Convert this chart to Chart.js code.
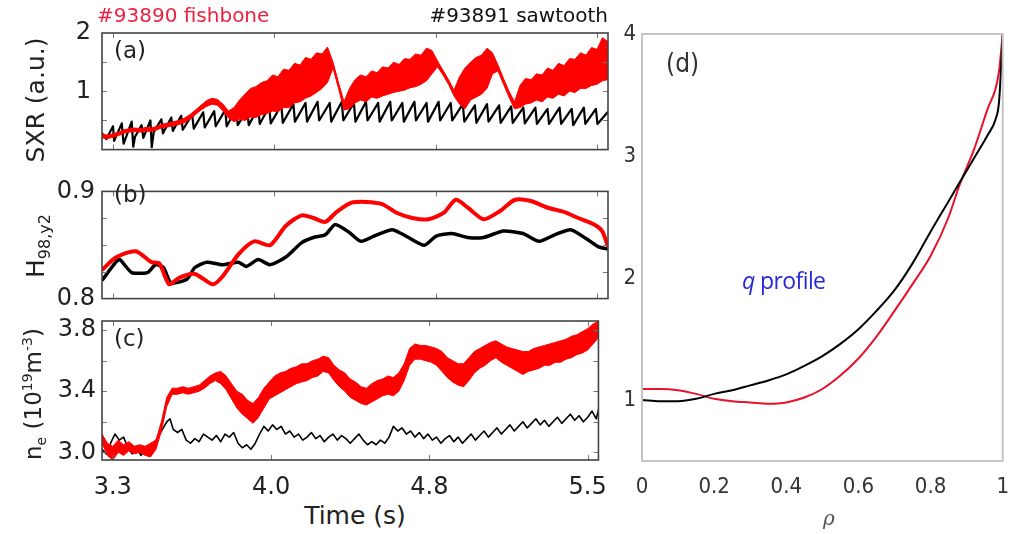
<!DOCTYPE html>
<html><head><meta charset="utf-8">
<script src="https://cdn.jsdelivr.net/npm/chart.js@4/dist/chart.umd.min.js"></script>
<style>
html,body{margin:0;padding:0;background:#fff;}
#wrap{position:relative;width:1022px;height:534px;overflow:hidden;background:#fff;font-family:'DejaVu Sans',sans-serif;color:#222;}
canvas{position:absolute;}
.t{position:absolute;white-space:nowrap;line-height:1;}
.rot{position:absolute;white-space:nowrap;line-height:1;transform:translate(-50%,-50%) rotate(-90deg);}
</style></head><body>
<div id="wrap">
<canvas id="ca" width="620" height="175" style="left:0;top:0"></canvas>
<canvas id="cb" width="620" height="150" style="left:0;top:170px"></canvas>
<canvas id="cc" width="620" height="200" style="left:0;top:300px"></canvas>
<canvas id="cd" width="422" height="534" style="left:600px;top:0"></canvas>

<div class="t" style="left:97px;top:5px;font-size:20px;color:#f02040;">#93890 fishbone</div>
<div class="t" style="right:414px;top:5px;font-size:20px;color:#111;">#93891 sawtooth</div>
<div class="t" style="left:114px;top:39px;font-size:23px;">(a)</div>
<div class="t" style="left:114px;top:183px;font-size:23px;">(b)</div>
<div class="t" style="left:114px;top:327px;font-size:23px;">(c)</div>
<div class="t" style="left:666px;top:50px;font-size:26px;font-family:'DejaVu Sans Condensed','DejaVu Sans',sans-serif;color:#333;">(d)</div>
<div class="rot" style="left:35px;top:100px;font-size:25px;">SXR (a.u.)</div>
<div class="rot" style="left:38px;top:246px;font-size:25px;">H<sub style="font-size:16px;">98,y2</sub></div>
<div class="rot" style="left:34px;top:394px;font-size:23px;">n<sub style="font-size:14px;">e</sub> (10<sup style="font-size:14px;">19</sup>m<sup style="font-size:14px;">-3</sup>)</div>
<div class="t" style="left:355px;top:503px;font-size:25px;transform:translateX(-50%);">Time (s)</div>
<div class="t" style="left:742px;top:269px;font-size:23px;letter-spacing:-0.6px;font-family:'Open Sans',sans-serif;color:#2828d8;"><i>q</i> profile</div>
<div class="t" style="left:829px;top:508px;font-size:20px;font-style:italic;color:#555;font-family:'DejaVu Serif',serif;transform:translateX(-50%);">&rho;</div>
</div>
<script>
// ---------- data ----------
const timeTickValues = [3.3, 4.0333, 4.7667, 5.5];
const timeTickLabels = ['3.3', '4.0', '4.8', '5.5'];

// common time grid for the fishbone (#93890) noisy signals
const gridT = [3.250,3.275,3.300,3.325,3.350,3.375,3.400,3.425,3.450,3.475,
3.500,3.525,3.550,3.575,3.600,3.625,3.650,3.675,3.700,3.725,
3.750,3.775,3.800,3.825,3.850,3.875,3.900,3.925,3.950,3.975,
4.000,4.025,4.050,4.075,4.100,4.125,4.150,4.175,4.200,4.225,
4.250,4.275,4.300,4.325,4.350,4.375,4.400,4.425,4.450,4.475,
4.500,4.525,4.550,4.575,4.600,4.625,4.650,4.675,4.700,4.725,
4.750,4.775,4.800,4.825,4.850,4.875,4.900,4.925,4.950,4.975,
5.000,5.025,5.050,5.075,5.100,5.125,5.150,5.175,5.200,5.225,
5.250,5.275,5.300,5.325,5.350,5.375,5.400,5.425,5.450,5.475,
5.500,5.525,5.550];

// (a) SXR — fishbone: upper / lower extremes of the oscillation
const sxrTickValues = [0.5, 1, 1.5, 2];
const sxrTickLabels = ['', '1', '', '2'];
const sxrRedHi = [0.26,0.25,0.27,0.30,0.34,0.36,0.37,0.36,0.38,0.37,
0.40,0.44,0.45,0.48,0.50,0.54,0.60,0.68,0.76,0.84,
0.88,0.86,0.78,0.66,0.72,0.85,0.95,1.05,1.08,1.15,
1.18,1.28,1.25,1.38,1.36,1.48,1.45,1.58,1.55,1.66,
1.64,1.76,1.50,1.15,0.82,1.05,1.20,1.28,1.25,1.35,
1.32,1.42,1.40,1.50,1.46,1.56,1.55,1.64,1.62,1.74,
1.70,1.52,1.36,1.20,1.02,1.25,1.40,1.50,1.58,1.62,
1.74,1.66,1.45,1.22,1.00,0.82,1.10,1.22,1.20,1.30,
1.28,1.40,1.36,1.48,1.44,1.56,1.55,1.66,1.62,1.75,
1.72,1.92,1.85];
const sxrRedLo = [0.20,0.19,0.21,0.24,0.28,0.30,0.31,0.30,0.32,0.31,
0.34,0.38,0.39,0.41,0.43,0.46,0.52,0.60,0.68,0.74,
0.78,0.76,0.66,0.54,0.48,0.52,0.50,0.56,0.55,0.60,
0.62,0.66,0.65,0.72,0.72,0.80,0.82,0.88,0.92,0.98,
1.05,1.15,1.40,1.05,0.68,0.70,0.80,0.85,0.82,0.90,
0.88,0.92,0.95,0.98,1.00,1.02,1.06,1.08,1.12,1.18,
1.30,1.42,1.28,1.12,0.92,0.78,0.70,0.85,0.90,0.95,
1.05,1.30,1.35,1.12,0.90,0.70,0.72,0.78,0.80,0.85,
0.82,0.90,0.88,0.95,0.92,1.00,0.98,1.05,1.05,1.10,
1.12,1.18,1.20];
const sxrBlackT = [3.250,3.270,3.300,3.305,3.340,3.348,3.385,3.392,3.400,3.430,
3.438,3.470,3.476,3.485,3.520,3.527,3.565,3.572,3.610,3.617,
3.660,3.667,3.710,3.717,3.760,3.767,3.810,3.817,3.860,3.867,
3.910,3.917,3.960,3.967,4.010,4.017,4.065,4.072,4.120,4.127,
4.175,4.182,4.230,4.237,4.285,4.292,4.340,4.347,4.395,4.402,
4.450,4.457,4.505,4.512,4.560,4.567,4.615,4.622,4.670,4.677,
4.725,4.732,4.780,4.787,4.835,4.842,4.890,4.897,4.945,4.952,
5.000,5.007,5.055,5.062,5.110,5.117,5.165,5.172,5.220,5.227,
5.275,5.282,5.330,5.337,5.385,5.392,5.440,5.447,5.495,5.502,5.550];
const sxrBlackV = [0.28,0.18,0.40,0.15,0.45,0.10,0.48,0.05,0.22,0.42,
0.20,0.50,0.04,0.30,0.52,0.28,0.55,0.32,0.58,0.34,
0.60,0.36,0.64,0.38,0.66,0.40,0.68,0.40,0.70,0.42,
0.68,0.42,0.72,0.44,0.74,0.45,0.76,0.46,0.78,0.48,
0.80,0.48,0.82,0.50,0.80,0.48,0.82,0.50,0.80,0.48,
0.82,0.50,0.80,0.48,0.82,0.50,0.80,0.48,0.82,0.50,
0.80,0.48,0.82,0.50,0.80,0.50,0.78,0.48,0.76,0.46,
0.78,0.48,0.76,0.46,0.74,0.46,0.72,0.45,0.72,0.44,
0.70,0.44,0.72,0.44,0.70,0.42,0.72,0.44,0.70,0.44,0.65];

// (b) H98,y2
const h98TickValues = [0.8, 0.825, 0.85, 0.875, 0.9];
const h98TickLabels = ['0.8', '', '', '', '0.9'];
const h98RedT = [3.250,3.313,3.403,3.475,3.511,3.555,3.600,3.672,3.753,3.798,
3.870,3.942,4.014,4.086,4.158,4.211,4.265,4.319,4.391,4.517,
4.589,4.661,4.733,4.804,4.858,4.912,4.984,5.056,5.128,5.200,
5.272,5.343,5.415,5.487,5.523,5.550];
const h98RedV = [0.8267,0.8383,0.8442,0.8340,0.8328,0.8133,0.8194,0.8230,0.8133,0.8206,
0.8413,0.8534,0.8498,0.8680,0.8777,0.8752,0.8716,0.8813,0.8898,0.8886,
0.8801,0.8752,0.8740,0.8801,0.8922,0.8850,0.8740,0.8813,0.8922,0.8910,
0.8850,0.8813,0.8752,0.8692,0.8631,0.8485];
const h98BlackT = [3.250,3.313,3.331,3.385,3.457,3.493,3.529,3.564,3.636,3.672,
3.726,3.798,3.870,3.906,3.960,4.014,4.086,4.158,4.211,4.265,
4.310,4.373,4.427,4.499,4.571,4.643,4.715,4.769,4.840,4.912,
4.984,5.074,5.164,5.236,5.308,5.380,5.452,5.505,5.550];
const h98BlackV = [0.8170,0.8340,0.8364,0.8243,0.8243,0.8316,0.8290,0.8146,0.8180,0.8290,
0.8340,0.8316,0.8340,0.8300,0.8364,0.8316,0.8388,0.8522,0.8570,0.8595,
0.8692,0.8619,0.8534,0.8595,0.8643,0.8570,0.8498,0.8583,0.8607,0.8570,
0.8570,0.8631,0.8607,0.8534,0.8595,0.8643,0.8558,0.8485,0.8461];

// (c) n_e — fishbone: upper / lower extremes of the oscillation
const neTickValues = [3.0, 3.2, 3.4, 3.6, 3.8];
const neTickLabels = ['3.0', '', '3.4', '', '3.8'];
const neRedHi = [3.12,3.06,3.04,3.08,3.05,3.07,3.04,3.05,3.04,3.06,
3.08,3.20,3.36,3.42,3.42,3.43,3.42,3.43,3.44,3.47,
3.50,3.52,3.53,3.50,3.45,3.40,3.38,3.34,3.32,3.36,
3.42,3.46,3.50,3.52,3.53,3.55,3.56,3.58,3.58,3.60,
3.61,3.63,3.62,3.57,3.54,3.52,3.48,3.46,3.43,3.42,
3.45,3.47,3.48,3.50,3.49,3.52,3.58,3.68,3.71,3.70,
3.70,3.69,3.68,3.66,3.62,3.60,3.58,3.58,3.62,3.66,
3.68,3.70,3.72,3.73,3.71,3.69,3.68,3.67,3.66,3.66,
3.68,3.69,3.70,3.71,3.72,3.73,3.74,3.76,3.77,3.79,
3.81,3.84,3.86];
const neRedLo = [3.06,2.98,2.95,3.00,2.98,3.01,2.99,3.00,2.98,2.97,
3.02,3.14,3.30,3.38,3.38,3.39,3.38,3.39,3.40,3.42,
3.45,3.47,3.45,3.41,3.35,3.29,3.25,3.22,3.19,3.23,
3.29,3.35,3.37,3.39,3.41,3.43,3.45,3.46,3.47,3.49,
3.50,3.53,3.52,3.47,3.43,3.40,3.36,3.34,3.32,3.31,
3.33,3.35,3.37,3.38,3.37,3.40,3.47,3.57,3.61,3.61,
3.60,3.59,3.57,3.53,3.49,3.46,3.44,3.43,3.47,3.52,
3.55,3.57,3.60,3.62,3.59,3.57,3.55,3.53,3.51,3.53,
3.54,3.55,3.57,3.57,3.59,3.59,3.61,3.62,3.64,3.65,
3.67,3.71,3.75];
const neBlackT = [3.250,3.270,3.290,3.310,3.330,3.350,3.370,3.390,3.410,3.430,
3.450,3.470,3.490,3.510,3.530,3.550,3.565,3.580,3.600,3.620,
3.640,3.660,3.680,3.700,3.720,3.740,3.760,3.780,3.800,3.820,
3.840,3.860,3.880,3.900,3.920,3.940,3.960,3.980,4.000,4.020,
4.040,4.060,4.080,4.100,4.120,4.140,4.160,4.180,4.200,4.220,
4.240,4.260,4.280,4.300,4.320,4.340,4.360,4.380,4.400,4.420,
4.440,4.460,4.480,4.500,4.520,4.540,4.560,4.580,4.600,4.620,
4.640,4.660,4.680,4.700,4.720,4.740,4.760,4.780,4.800,4.820,
4.840,4.860,4.880,4.900,4.920,4.940,4.960,4.980,5.000,5.020,
5.040,5.060,5.080,5.100,5.120,5.140,5.160,5.180,5.200,5.220,
5.240,5.260,5.280,5.300,5.320,5.340,5.360,5.380,5.400,5.420,
5.440,5.460,5.480,5.500,5.520,5.540,5.550];
const neBlackV = [3.02,2.99,3.06,3.12,3.08,3.10,3.03,2.99,3.04,2.98,
3.02,3.00,3.06,3.10,3.15,3.20,3.22,3.15,3.13,3.15,
3.08,3.06,3.09,3.07,3.12,3.10,3.08,3.11,3.07,3.12,
3.10,3.13,3.06,3.03,3.05,3.02,3.06,3.12,3.17,3.14,
3.18,3.15,3.17,3.12,3.14,3.10,3.12,3.08,3.10,3.13,
3.09,3.11,3.07,3.10,3.12,3.08,3.11,3.09,3.06,3.09,
3.12,3.08,3.05,3.07,3.05,3.08,3.06,3.10,3.17,3.14,
3.16,3.12,3.14,3.10,3.13,3.09,3.12,3.08,3.10,3.06,
3.09,3.11,3.07,3.10,3.06,3.09,3.12,3.08,3.11,3.14,
3.10,3.13,3.16,3.12,3.15,3.18,3.14,3.17,3.20,3.16,
3.19,3.22,3.18,3.21,3.17,3.20,3.23,3.19,3.22,3.25,
3.21,3.24,3.20,3.23,3.27,3.22,3.28];

// (d) q profile
const rhoTickValues = [0, 0.2, 0.4, 0.6, 0.8, 1];
const rhoTickLabels = ['0', '0.2', '0.4', '0.6', '0.8', '1'];
const qTickValues = [1, 2, 3, 4];
const qTickLabels = ['1', '2', '3', '4'];
const qRho   = [0,0.05,0.1,0.15,0.2,0.25,0.3,0.35,0.4,0.45,0.5,0.55,0.6,0.65,0.7,0.75,0.8,0.85,0.88,0.92,0.96,0.98,0.99,1.0];
const qBlack = [1.00,0.99,0.99,1.01,1.05,1.08,1.12,1.16,1.21,1.28,1.36,1.46,1.58,1.73,1.90,2.12,2.38,2.63,2.78,2.98,3.18,3.30,3.45,4.00];
const qRed   = [1.09,1.09,1.08,1.05,1.01,0.99,0.98,0.97,0.98,1.02,1.09,1.20,1.34,1.52,1.73,1.95,2.18,2.50,2.76,3.05,3.40,3.55,3.70,4.00];

// ---------- helpers ----------
const RED = '#ff0000';
function xy(ts, vs){ return ts.map((t,i)=>({x:t, y:vs[i]})); }

const framePlugin = {
  id: 'frame',
  afterDatasetsDraw(chart, args, opts){
    const ctx = chart.ctx, a = chart.chartArea;
    ctx.save();
    const L = opts.tick || 0;
    if (L > 0){
      ctx.strokeStyle = opts.tickColor || opts.color;
      ctx.lineWidth = 1;
      ctx.beginPath();
      const ys = chart.scales.y, xs = chart.scales.x;
      ys.ticks.forEach(tk=>{
        const p = Math.round(ys.getPixelForValue(tk.value)) + 0.5;
        if (p <= a.top + 2 || p >= a.bottom - 2) return;
        ctx.moveTo(a.left, p); ctx.lineTo(a.left + L, p);
        ctx.moveTo(a.right, p); ctx.lineTo(a.right - L, p);
      });
      xs.ticks.forEach(tk=>{
        const p = Math.round(xs.getPixelForValue(tk.value)) + 0.5;
        if (p <= a.left + 2 || p >= a.right - 2) return;
        ctx.moveTo(p, a.top); ctx.lineTo(p, a.top + L);
        ctx.moveTo(p, a.bottom); ctx.lineTo(p, a.bottom - L);
      });
      ctx.stroke();
    }
    ctx.strokeStyle = opts.color;
    ctx.lineWidth = opts.width;
    ctx.strokeRect(a.left, a.top, a.right - a.left, a.bottom - a.top);
    ctx.restore();
  }
};
Chart.register(framePlugin);

function yScale(min, max, vals, labels, width, pad, font, color){
  return {
    type:'linear', position:'left', min:min, max:max,
    afterBuildTicks: s => { s.ticks = vals.map(v=>({value:v})); },
    afterFit: s => { s.width = width; },
    grid:{display:false, drawTicks:false}, border:{display:false},
    ticks:{autoSkip:false, padding:pad, color:color || '#222', font:font,
      callback:(v,i)=>labels[i]}
  };
}
function xScale(min, max, vals, labels, show, height, pad, font, color){
  const s = {
    type:'linear', position:'bottom', min:min, max:max, display:show,
    afterBuildTicks: sc => { sc.ticks = vals.map(v=>({value:v})); },
    grid:{display:false, drawTicks:false}, border:{display:false},
    ticks:{autoSkip:false, maxRotation:0, padding:pad, color:color || '#222', font:font,
      callback:(v,i)=>labels[i]}
  };
  if (show) s.afterFit = sc => { sc.height = height; };
  return s;
}
function line(data, color, width, extra){
  return Object.assign({data:data, borderColor:color, backgroundColor:color, borderWidth:width,
    pointRadius:0, fill:false, tension:0, borderJoinStyle:'round'}, extra || {});
}
function makeChart(id, datasets, scales, padding, frame){
  return new Chart(document.getElementById(id), {
    type:'line',
    data:{datasets:datasets},
    options:{
      responsive:false, animation:false, events:[],
      layout:{padding:padding},
      scales:scales,
      plugins:{legend:{display:false}, tooltip:{enabled:false}, frame:frame}
    }
  });
}

const tickFont = {family:"'DejaVu Sans', sans-serif", size:24};
const frameA = {color:'#444', width:1.6, tick:5, tickColor:'#777'};

// (a)  upper envelope, lower envelope filled up to it, sawtooth beneath
makeChart('ca', [
  line(xy(gridT, sxrRedHi), RED, 1),
  line(xy(gridT, sxrRedLo), RED, 1, {fill:'-1'}),
  line(xy(sxrBlackT, sxrBlackV), '#000', 2.2)
], {
  x: xScale(3.25, 5.55, timeTickValues, timeTickLabels, false),
  y: yScale(0, 2, sxrTickValues, sxrTickLabels, 102, 11, tickFont)
}, {top:33, right:12, bottom:8, left:0}, frameA);

// (b)
makeChart('cb', [
  line(xy(h98RedT, h98RedV), RED, 4, {tension:0.25}),
  line(xy(h98BlackT, h98BlackV), '#000', 3.5, {tension:0.2})
], {
  x: xScale(3.25, 5.55, timeTickValues, timeTickLabels, false),
  y: yScale(0.8, 0.9, h98TickValues, h98TickLabels, 102, 7, tickFont)
}, {top:7, right:12, bottom:6, left:0}, frameA);

// (c)
makeChart('cc', [
  line(xy(gridT, neRedHi), RED, 1),
  line(xy(gridT, neRedLo), RED, 1, {fill:'-1'}),
  line(xy(neBlackT, neBlackV), '#000', 1.6)
], {
  x: xScale(3.25, 5.55, timeTickValues, timeTickLabels, true, 40, 13, tickFont),
  y: yScale(2.95, 3.86, neTickValues, neTickLabels, 102, 6, tickFont)
}, {top:21, right:12, bottom:0, left:0}, frameA);

// (d)
const dFont = {family:"'DejaVu Sans Condensed', 'DejaVu Sans', sans-serif", size:22};
makeChart('cd', [
  line(xy(qRho, qBlack), '#000', 2, {cubicInterpolationMode:'monotone'}),
  line(xy(qRho, qRed), '#e8102a', 2, {cubicInterpolationMode:'monotone'})
], {
  x: xScale(0, 1, rhoTickValues, rhoTickLabels, true, 73, 13, dFont, '#333'),
  y: yScale(0.5, 4, qTickValues, qTickLabels, 42, 6, dFont, '#333')
}, {top:34, right:3, bottom:0, left:0}, {color:'#c4c4c4', width:2, tick:0});
</script>
</body></html>
